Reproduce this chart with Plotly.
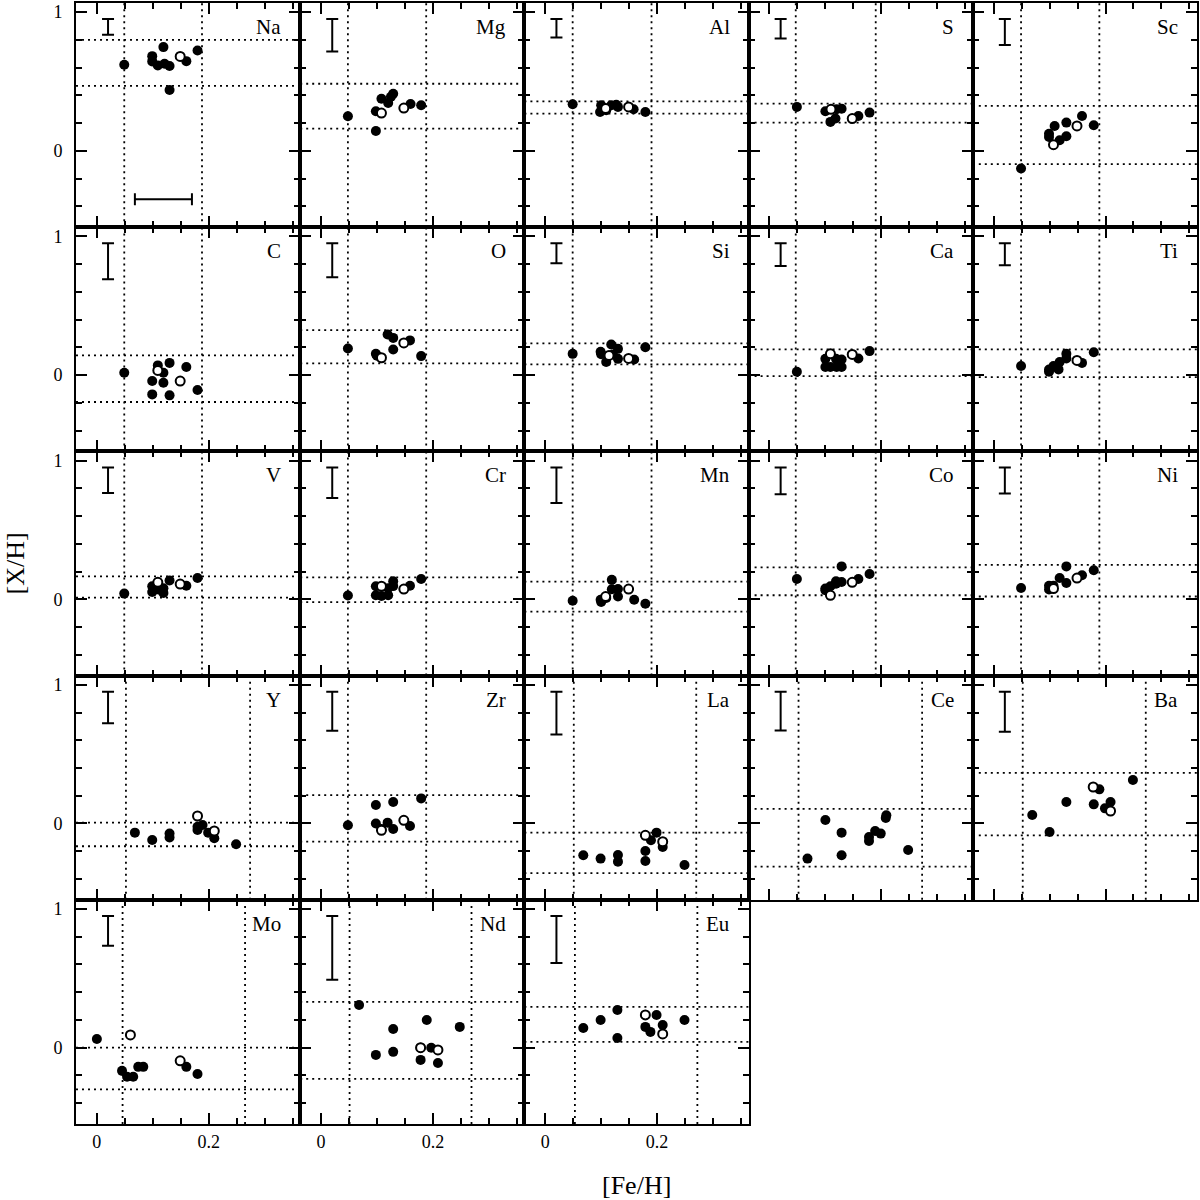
import plotly.graph_objects as go

# ---------------- data ----------------
# filled symbols: *_x ([Fe/H]), *_y ([X/H]); open symbols: *_ox, *_oy
# *_h : horizontal dotted levels, *_v : vertical dotted levels, *_err : error bar half-size
na_x = [0.049, 0.099, 0.099, 0.109, 0.119, 0.121, 0.130, 0.130, 0.160, 0.180]
na_y = [0.621, 0.683, 0.645, 0.616, 0.748, 0.628, 0.612, 0.439, 0.647, 0.724]
na_ox = [0.149]
na_oy = [0.681]
na_h = [0.800, 0.468]
na_v = [0.049, 0.188]
na_err = 0.056
feh_err = 0.051

mg_x = [0.048, 0.098, 0.098, 0.108, 0.120, 0.125, 0.129, 0.160, 0.179]
mg_y = [0.250, 0.286, 0.144, 0.376, 0.345, 0.390, 0.412, 0.338, 0.329]
mg_ox = [0.108, 0.148]
mg_oy = [0.273, 0.309]
mg_h = [0.484, 0.160]
mg_v = [0.048, 0.188]
mg_err = 0.117

al_x = [0.049, 0.098, 0.100, 0.109, 0.118, 0.127, 0.130, 0.158, 0.179]
al_y = [0.336, 0.280, 0.329, 0.293, 0.329, 0.333, 0.317, 0.300, 0.280]
al_ox = [0.108, 0.149]
al_oy = [0.305, 0.317]
al_h = [0.357, 0.268]
al_v = [0.049, 0.190]
al_err = 0.066

s_x = [0.049, 0.100, 0.109, 0.118, 0.120, 0.129, 0.159, 0.179]
s_y = [0.317, 0.286, 0.209, 0.233, 0.300, 0.304, 0.252, 0.276]
s_ox = [0.110, 0.148]
s_oy = [0.300, 0.233]
s_h = [0.340, 0.204]
s_v = [0.047, 0.190]
s_err = 0.070

sc_x = [0.049, 0.099, 0.099, 0.109, 0.118, 0.130, 0.130, 0.158, 0.179]
sc_y = [-0.127, 0.124, 0.100, 0.180, 0.077, 0.106, 0.204, 0.252, 0.185]
sc_ox = [0.107, 0.149]
sc_oy = [0.045, 0.180]
sc_h = [0.324, -0.096]
sc_v = [0.049, 0.189]
sc_err = 0.093

c_x = [0.049, 0.099, 0.099, 0.109, 0.119, 0.119, 0.130, 0.130, 0.160, 0.180]
c_y = [0.017, -0.043, -0.139, 0.070, 0.017, -0.055, 0.088, -0.146, 0.058, -0.108]
c_ox = [0.109, 0.149]
c_oy = [0.034, -0.043]
c_h = [0.142, -0.194]
c_v = [0.049, 0.188]
c_err = 0.130

o_x = [0.048, 0.098, 0.100, 0.119, 0.129, 0.129, 0.159, 0.179]
o_y = [0.192, 0.153, 0.140, 0.293, 0.268, 0.185, 0.250, 0.137]
o_ox = [0.108, 0.148]
o_oy = [0.125, 0.232]
o_h = [0.324, 0.084]
o_v = [0.048, 0.188]
o_err = 0.122

si_x = [0.049, 0.099, 0.100, 0.109, 0.118, 0.121, 0.130, 0.130, 0.159, 0.179]
si_y = [0.153, 0.168, 0.150, 0.094, 0.221, 0.149, 0.189, 0.117, 0.113, 0.201]
si_ox = [0.114, 0.149]
si_oy = [0.142, 0.120]
si_h = [0.228, 0.077]
si_v = [0.049, 0.190]
si_err = 0.072

ca_x = [0.049, 0.100, 0.100, 0.109, 0.119, 0.120, 0.129, 0.129, 0.159, 0.179]
ca_y = [0.024, 0.117, 0.058, 0.058, 0.117, 0.058, 0.113, 0.058, 0.120, 0.173]
ca_ox = [0.109, 0.148]
ca_oy = [0.153, 0.149]
ca_h = [0.185, -0.007]
ca_v = [0.047, 0.190]
ca_err = 0.082

ti_x = [0.049, 0.099, 0.099, 0.107, 0.116, 0.118, 0.130, 0.130, 0.158, 0.179]
ti_y = [0.065, 0.024, 0.040, 0.065, 0.041, 0.094, 0.153, 0.120, 0.088, 0.165]
ti_ox = [0.149]
ti_oy = [0.106]
ti_h = [0.185, -0.014]
ti_v = [0.049, 0.189]
ti_err = 0.079

v_x = [0.049, 0.099, 0.099, 0.110, 0.119, 0.119, 0.130, 0.160, 0.180]
v_y = [0.041, 0.094, 0.053, 0.070, 0.046, 0.080, 0.135, 0.098, 0.153]
v_ox = [0.109, 0.149]
v_oy = [0.122, 0.110]
v_h = [0.165, 0.012]
v_v = [0.049, 0.188]
v_err = 0.092

cr_x = [0.048, 0.098, 0.098, 0.108, 0.120, 0.120, 0.129, 0.129, 0.159, 0.179]
cr_y = [0.027, 0.094, 0.029, 0.024, 0.029, 0.080, 0.130, 0.095, 0.098, 0.146]
cr_ox = [0.108, 0.148]
cr_oy = [0.094, 0.074]
cr_h = [0.158, -0.020]
cr_v = [0.048, 0.188]
cr_err = 0.110

mn_x = [0.049, 0.099, 0.100, 0.109, 0.119, 0.119, 0.130, 0.130, 0.159, 0.179]
mn_y = [-0.010, -0.003, -0.020, 0.010, 0.140, 0.073, 0.074, 0.020, -0.003, -0.032]
mn_ox = [0.108, 0.149]
mn_oy = [0.020, 0.074]
mn_h = [0.127, -0.089]
mn_v = [0.049, 0.190]
mn_err = 0.128

co_x = [0.049, 0.100, 0.100, 0.109, 0.119, 0.119, 0.129, 0.129, 0.159, 0.179]
co_y = [0.146, 0.077, 0.065, 0.094, 0.130, 0.112, 0.237, 0.125, 0.146, 0.182]
co_ox = [0.109, 0.148]
co_oy = [0.029, 0.122]
co_h = [0.230, 0.029]
co_v = [0.047, 0.190]
co_err = 0.096

ni_x = [0.049, 0.099, 0.099, 0.107, 0.118, 0.130, 0.130, 0.158, 0.179]
ni_y = [0.081, 0.098, 0.070, 0.098, 0.153, 0.237, 0.117, 0.173, 0.209]
ni_ox = [0.107, 0.149]
ni_oy = [0.077, 0.153]
ni_h = [0.248, 0.020]
ni_v = [0.049, 0.189]
ni_err = 0.094

y_x = [0.068, 0.099, 0.130, 0.130, 0.180, 0.180, 0.189, 0.199, 0.210, 0.249]
y_y = [-0.066, -0.119, -0.073, -0.101, -0.047, -0.023, -0.011, -0.066, -0.106, -0.150]
y_ox = [0.180, 0.210]
y_oy = [0.054, -0.054]
y_h = [0.006, -0.164]
y_v = [0.052, 0.274]
y_err = 0.114

zr_x = [0.048, 0.098, 0.098, 0.108, 0.119, 0.129, 0.129, 0.159, 0.179]
zr_y = [-0.013, 0.133, 0.000, -0.040, 0.006, 0.155, -0.040, -0.018, 0.181]
zr_ox = [0.108, 0.148]
zr_oy = [-0.049, 0.023]
zr_h = [0.205, -0.131]
zr_v = [0.048, 0.188]
zr_err = 0.141

la_x = [0.068, 0.099, 0.130, 0.130, 0.179, 0.179, 0.189, 0.199, 0.210, 0.249]
la_y = [-0.229, -0.253, -0.227, -0.275, -0.198, -0.270, -0.121, -0.066, -0.170, -0.299]
la_ox = [0.179, 0.210]
la_oy = [-0.085, -0.131]
la_h = [-0.066, -0.358]
la_v = [0.051, 0.270]
la_err = 0.154

ce_x = [0.068, 0.100, 0.129, 0.129, 0.178, 0.178, 0.189, 0.199, 0.209, 0.208, 0.248]
ce_y = [-0.253, 0.025, -0.066, -0.229, -0.097, -0.126, -0.054, -0.073, 0.059, 0.040, -0.191]
ce_ox = []
ce_oy = []
ce_h = [0.106, -0.311]
ce_v = [0.052, 0.273]
ce_err = 0.140

ba_x = [0.069, 0.100, 0.130, 0.189, 0.179, 0.199, 0.209, 0.249]
ba_y = [0.061, -0.061, 0.155, 0.246, 0.138, 0.109, 0.155, 0.313]
ba_ox = [0.178, 0.209]
ba_oy = [0.263, 0.090]
ba_h = [0.365, -0.085]
ba_v = [0.052, 0.272]
ba_err = 0.144

mo_x = [0.000, 0.045, 0.054, 0.065, 0.074, 0.083, 0.160, 0.180]
mo_y = [0.063, -0.167, -0.210, -0.210, -0.138, -0.138, -0.138, -0.189]
mo_ox = [0.060, 0.149]
mo_oy = [0.092, -0.095]
mo_h = [0.000, -0.300]
mo_v = [0.046, 0.265]
mo_err = 0.108

nd_x = [0.068, 0.098, 0.129, 0.129, 0.178, 0.178, 0.189, 0.197, 0.209, 0.248]
nd_y = [0.308, -0.052, 0.135, -0.030, 0.000, -0.088, 0.200, 0.000, -0.110, 0.150]
nd_ox = [0.178, 0.209]
nd_oy = [0.000, -0.016]
nd_h = [0.330, -0.225]
nd_v = [0.051, 0.269]
nd_err = 0.230

eu_x = [0.068, 0.099, 0.129, 0.129, 0.199, 0.179, 0.188, 0.210, 0.249]
eu_y = [0.142, 0.200, 0.272, 0.070, 0.236, 0.150, 0.114, 0.164, 0.200]
eu_ox = [0.179, 0.210]
eu_oy = [0.236, 0.099]
eu_h = [0.294, 0.042]
eu_v = [0.053, 0.272]
eu_err = 0.170

element_names = ["Na", "Mg", "Al", "S", "Sc", "C", "O", "Si", "Ca", "Ti",
                 "V", "Cr", "Mn", "Co", "Ni", "Y", "Zr", "La", "Ce", "Ba",
                 "Mo", "Nd", "Eu"]

x_ticks = [0, 0.2]
x_ticktext = ["0", "0.2"]
x_minor = [0.05, 0.1, 0.15, 0.25, 0.3, 0.35]
y_ticks = [0, 1]
y_ticktext = ["0", "1"]
y_minor = [-0.4, -0.2, 0.2, 0.4, 0.6, 0.8]

# table built from the named lists
panels = [
    (na_x, na_y, na_ox, na_oy, na_h, na_v, na_err),
    (mg_x, mg_y, mg_ox, mg_oy, mg_h, mg_v, mg_err),
    (al_x, al_y, al_ox, al_oy, al_h, al_v, al_err),
    (s_x, s_y, s_ox, s_oy, s_h, s_v, s_err),
    (sc_x, sc_y, sc_ox, sc_oy, sc_h, sc_v, sc_err),
    (c_x, c_y, c_ox, c_oy, c_h, c_v, c_err),
    (o_x, o_y, o_ox, o_oy, o_h, o_v, o_err),
    (si_x, si_y, si_ox, si_oy, si_h, si_v, si_err),
    (ca_x, ca_y, ca_ox, ca_oy, ca_h, ca_v, ca_err),
    (ti_x, ti_y, ti_ox, ti_oy, ti_h, ti_v, ti_err),
    (v_x, v_y, v_ox, v_oy, v_h, v_v, v_err),
    (cr_x, cr_y, cr_ox, cr_oy, cr_h, cr_v, cr_err),
    (mn_x, mn_y, mn_ox, mn_oy, mn_h, mn_v, mn_err),
    (co_x, co_y, co_ox, co_oy, co_h, co_v, co_err),
    (ni_x, ni_y, ni_ox, ni_oy, ni_h, ni_v, ni_err),
    (y_x, y_y, y_ox, y_oy, y_h, y_v, y_err),
    (zr_x, zr_y, zr_ox, zr_oy, zr_h, zr_v, zr_err),
    (la_x, la_y, la_ox, la_oy, la_h, la_v, la_err),
    (ce_x, ce_y, ce_ox, ce_oy, ce_h, ce_v, ce_err),
    (ba_x, ba_y, ba_ox, ba_oy, ba_h, ba_v, ba_err),
    (mo_x, mo_y, mo_ox, mo_oy, mo_h, mo_v, mo_err),
    (nd_x, nd_y, nd_ox, nd_oy, nd_h, nd_v, nd_err),
    (eu_x, eu_y, eu_ox, eu_oy, eu_h, eu_v, eu_err),
]

# ---------------- figure ----------------
FONT = "Liberation Serif"
XR = [-0.0373, 0.3636]
YR = [-0.55, 1.066]
NCOL = 5
NROW = 5

fig = go.Figure()
shapes = []
annotations = []
layout_axes = {}

for k, (name, (fx, fy, ox, oy, hl, vl, err)) in enumerate(zip(element_names, panels)):
    r, c = divmod(k, NCOL)
    sfx = "" if k == 0 else str(k + 1)
    xa, ya = "x" + sfx, "y" + sfx

    for v in vl:
        shapes.append(dict(type="line", xref=xa, yref=ya + " domain", x0=v, x1=v, y0=0, y1=1,
                           line=dict(color="black", width=1.8, dash="2px,4px"), layer="below"))
    for h in hl:
        shapes.append(dict(type="line", xref=xa + " domain", yref=ya, x0=0, x1=1, y0=h, y1=h,
                           line=dict(color="black", width=1.8, dash="2px,4px"), layer="below"))

    # representative error bar
    fig.add_trace(go.Scatter(
        x=[0.02], y=[0.95 - err], mode="markers",
        marker=dict(size=1, color="rgba(0,0,0,0)"),
        error_y=dict(type="data", array=[err], color="black", thickness=2, width=6),
        xaxis=xa, yaxis=ya, showlegend=False, hoverinfo="skip"))
    if k == 0:
        fig.add_trace(go.Scatter(
            x=[0.119], y=[-0.348], mode="markers",
            marker=dict(size=1, color="rgba(0,0,0,0)"),
            error_x=dict(type="data", array=[feh_err], color="black", thickness=2, width=6),
            xaxis=xa, yaxis=ya, showlegend=False, hoverinfo="skip"))

    fig.add_trace(go.Scatter(
        x=fx, y=fy, mode="markers",
        marker=dict(symbol="circle", size=10, color="black", line=dict(width=0)),
        xaxis=xa, yaxis=ya, showlegend=False))
    if ox:
        fig.add_trace(go.Scatter(
            x=ox, y=oy, mode="markers",
            marker=dict(symbol="circle", size=9, color="white", line=dict(width=2, color="black")),
            xaxis=xa, yaxis=ya, showlegend=False))

    annotations.append(dict(text=name, xref=xa + " domain", yref=ya + " domain",
                            x=0.925, y=0.893, xanchor="right", yanchor="middle",
                            showarrow=False, font=dict(family=FONT, size=21, color="black")))

    common = dict(showline=True, linecolor="black", linewidth=2, mirror="allticks",
                  ticks="inside", ticklen=11, tickwidth=2, tickcolor="black",
                  showgrid=False, zeroline=False, fixedrange=True,
                  tickfont=dict(family=FONT, size=18, color="black"))
    layout_axes["xaxis" + sfx] = dict(
        common, domain=[c / NCOL, (c + 1) / NCOL], range=XR, anchor=ya,
        tickmode="array", tickvals=x_ticks, ticktext=x_ticktext,
        showticklabels=(r == NROW - 1), ticklabelstandoff=0,
        minor=dict(tickmode="array", tickvals=x_minor, ticks="inside", ticklen=6,
                   tickwidth=2, tickcolor="black"))
    layout_axes["yaxis" + sfx] = dict(
        common, domain=[1 - (r + 1) / NROW, 1 - r / NROW], range=YR, anchor=xa,
        tickmode="array", tickvals=y_ticks, ticktext=y_ticktext,
        showticklabels=(c == 0), ticklabelstandoff=8,
        minor=dict(tickmode="array", tickvals=y_minor, ticks="inside", ticklen=6,
                   tickwidth=2, tickcolor="black"))

annotations.append(dict(text="[X/H]", xref="paper", yref="paper", x=-0.0544, y=0.5,
                        textangle=-90, showarrow=False, xanchor="center", yanchor="middle",
                        font=dict(family=FONT, size=26, color="black")))
annotations.append(dict(text="[Fe/H]", xref="paper", yref="paper", x=0.5, y=-0.0552,
                        showarrow=False, xanchor="center", yanchor="middle",
                        font=dict(family=FONT, size=26, color="black")))

fig.update_layout(
    width=1200, height=1200,
    margin=dict(l=76, r=2, t=1, b=76),
    paper_bgcolor="white", plot_bgcolor="white",
    shapes=shapes, annotations=annotations,
    showlegend=False,
    **layout_axes)

fig.write_html("out.html", config={"displayModeBar": False},
               post_script="document.body.style.margin='0px';document.body.style.overflow='hidden';")
